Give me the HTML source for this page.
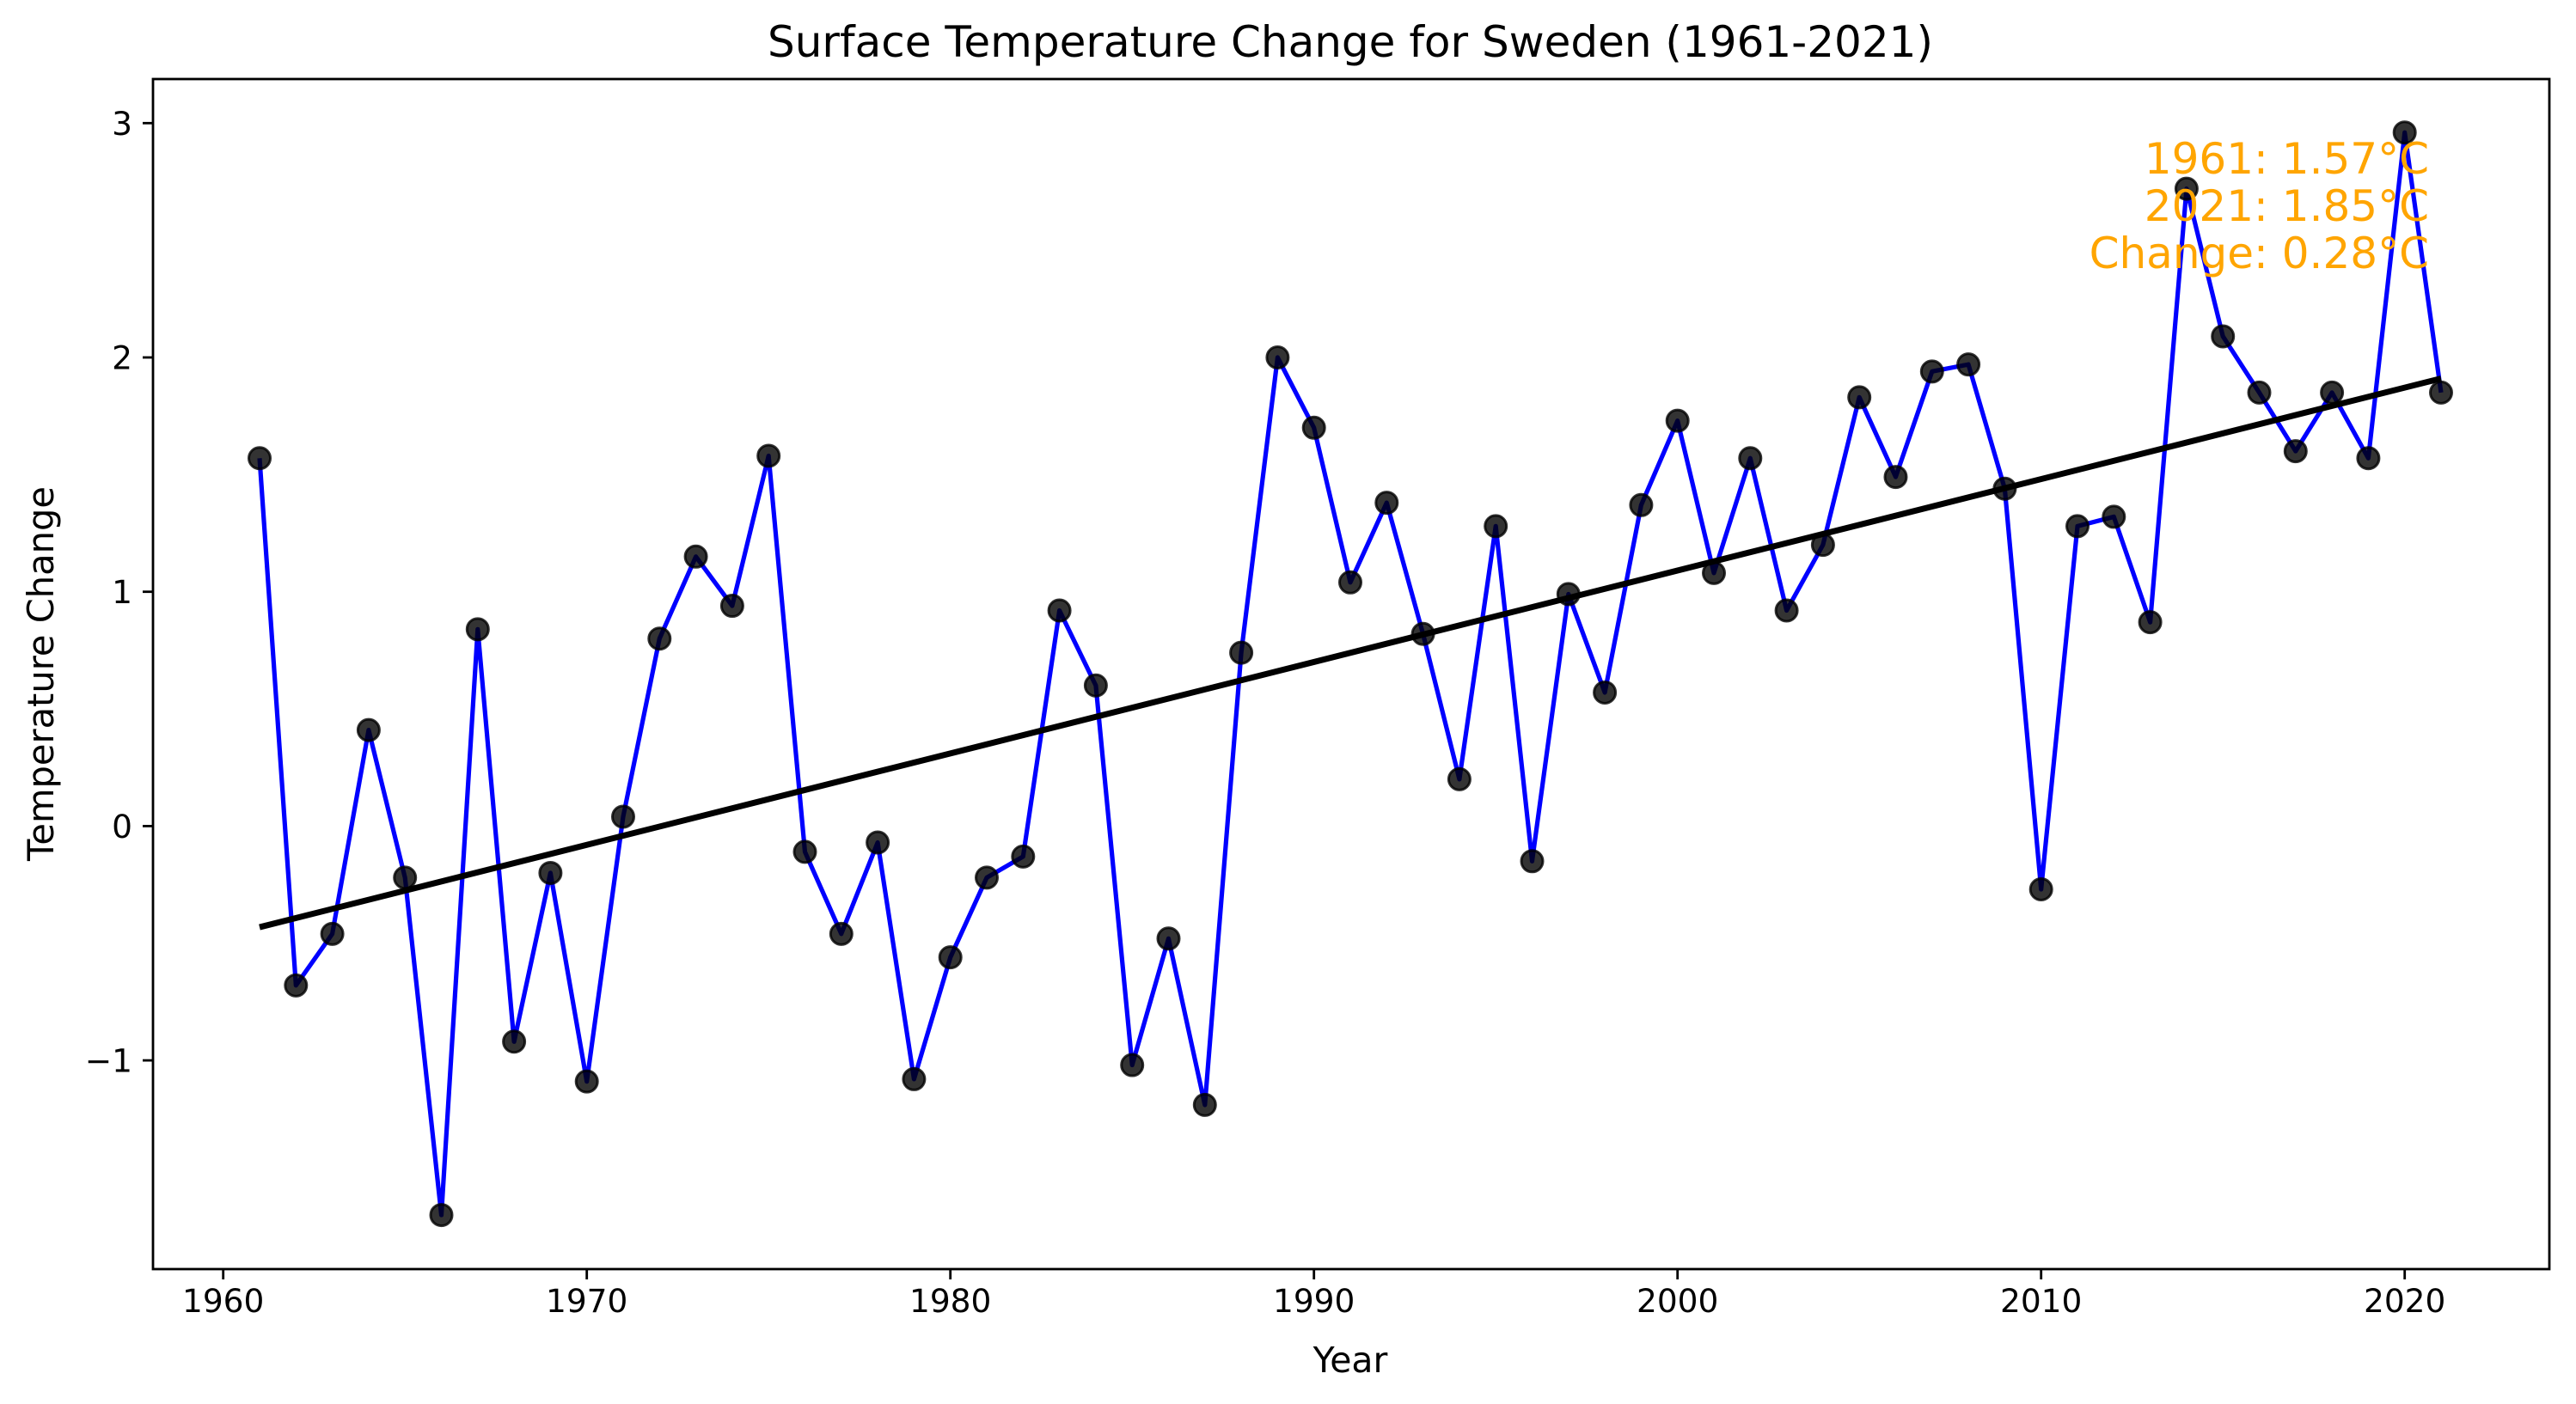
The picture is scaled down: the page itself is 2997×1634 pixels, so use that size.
<!DOCTYPE html>
<html><head><meta charset="utf-8"><style>
html,body{margin:0;padding:0;background:#fff;}
svg{display:block;font-family:"DejaVu Sans","Liberation Sans",sans-serif;}
</style></head><body>
<svg id="chart" width="2997" height="1634" viewBox="0 0 2997 1634">
<rect x="0" y="0" width="2997" height="1634" fill="#fff"/>
<text x="1571" y="66" font-size="50" text-anchor="middle">Surface Temperature Change for Sweden (1961-2021)</text>
<g id="plot"></g>
<rect x="178" y="92" width="2788" height="1385" fill="none" stroke="#000" stroke-width="2.8"/>
<text x="1571" y="1597" font-size="41" text-anchor="middle">Year</text>
<text x="0" y="0" font-size="41.6" text-anchor="middle" transform="translate(62,784) rotate(-90)">Temperature Change</text>
<g font-size="50" fill="#ffa500" text-anchor="end">
<text x="2826" y="202">1961: 1.57°C</text>
<text x="2826" y="257">2021: 1.85°C</text>
<text x="2826" y="312">Change: 0.28°C</text>
</g>
</svg>
<script>
const years = [];
for (let y = 1961; y <= 2021; y++) years.push(y);
const temps = [1.57,-0.68,-0.46,0.41,-0.22,-1.66,0.84,-0.92,-0.20,-1.09,0.04,0.80,1.15,0.94,1.58,-0.11,-0.46,-0.07,-1.08,-0.56,-0.22,-0.13,0.92,0.60,-1.02,-0.48,-1.19,0.74,2.00,1.70,1.04,1.38,0.82,0.20,1.28,-0.15,0.99,0.57,1.37,1.73,1.08,1.57,0.92,1.20,1.83,1.49,1.94,1.97,1.44,-0.27,1.28,1.32,0.87,2.72,2.09,1.85,1.60,1.85,1.57,2.96,1.85];
const xTicks = [1960,1970,1980,1990,2000,2010,2020];
const yTicks = [-1,0,1,2,3];
const yTickLabels = ["\u22121","0","1","2","3"];

const NS = "http://www.w3.org/2000/svg";
const xs = v => 302 + (v - 1961) * (2840 - 302) / 60;
const ys = v => 961.4 - v * 272.7;
const svg = document.getElementById('chart');
const plot = document.getElementById('plot');
function mk(tag, attrs, parent) {
  const e = document.createElementNS(NS, tag);
  for (const k in attrs) e.setAttribute(k, attrs[k]);
  (parent || plot).appendChild(e);
  return e;
}
xTicks.forEach(t => {
  const l = mk('line', {x1: xs(t), x2: xs(t), y1: 1477, y2: 1489, stroke: '#000', 'stroke-width': 2.8}, svg);
  
  
  const tx = mk('text', {x: xs(t), y: 1527, 'font-size': 37.5, 'text-anchor': 'middle'}, svg);
  tx.textContent = t;
  
  
});
yTicks.forEach((t, i) => {
  const l = mk('line', {x1: 166, x2: 178, y1: ys(t), y2: ys(t), stroke: '#000', 'stroke-width': 2.8}, svg);
  
  
  const tx = mk('text', {x: 154, y: ys(t) + 13.5, 'font-size': 37.5, 'text-anchor': 'end'}, svg);
  tx.textContent = yTickLabels[i];
  
  
});
const pts = years.map((y, i) => xs(y) + ',' + ys(temps[i])).join(' ');
const line = mk('polyline', {points: pts, fill: 'none', stroke: '#0000ff', 'stroke-width': 5.2, 'stroke-linejoin': 'round'});


years.forEach((y, i) => {
  const c = mk('circle', {cx: xs(y), cy: ys(temps[i]), r: 12.5, fill: '#000', 'fill-opacity': 0.8, stroke: '#000', 'stroke-opacity': 0.8, 'stroke-width': 3});
  
  
});
const n = years.length;
const mx = years.reduce((a, b) => a + b, 0) / n;
const my = temps.reduce((a, b) => a + b, 0) / n;
let sxy = 0, sxx = 0;
years.forEach((y, i) => { sxy += (y - mx) * (temps[i] - my); sxx += (y - mx) * (y - mx); });
const slope = sxy / sxx, b0 = my - slope * mx;
const tr = mk('line', {x1: xs(1961), y1: ys(b0 + slope * 1961), x2: xs(2021), y2: ys(b0 + slope * 2021), stroke: '#000', 'stroke-width': 7});


</script>
</body></html>
